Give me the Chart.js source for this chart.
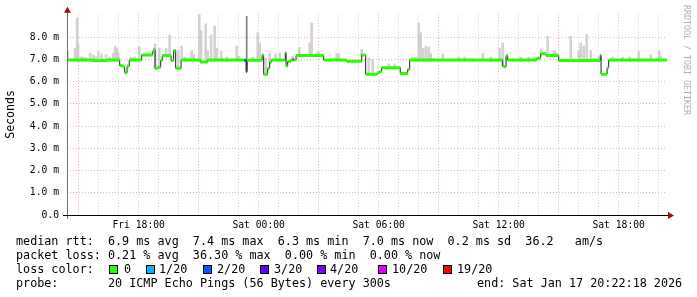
<!DOCTYPE html>
<html>
<head>
<meta charset="utf-8">
<script src="https://cdn.jsdelivr.net/npm/chart.js@4.4.1/dist/chart.umd.min.js"></script>
<style>
  html, body { margin: 0; padding: 0; background: #fff; }
  #wrap { position: relative; width: 697px; height: 297px; overflow: hidden; }
  #rtt { position: absolute; left: 0; top: 0; }
  .leg { position: absolute; font-family: "DejaVu Sans Mono", monospace; font-size: 11.75px; line-height: 14px; white-space: pre; color: #000; }
  .box { position: absolute; width: 7px; height: 7px; border: 1px solid #000; }
  #credit { position: absolute; left: 682px; top: 5px; writing-mode: vertical-rl; font-family: "DejaVu Sans Mono", monospace; font-size: 8.3px; color: #b0b0b0; white-space: pre; }
</style>
</head>
<body>
<div id="wrap">
  <canvas id="rtt" width="697" height="297"></canvas>
  <div id="credit">RRDTOOL / TOBI OETIKER</div>
  <div class="leg" style="left:16px;top:234px">median rtt:  6.9 ms avg  7.4 ms max  6.3 ms min  7.0 ms now  0.2 ms sd  36.2   am/s</div>
  <div class="leg" style="left:16px;top:248px">packet loss: 0.21 % avg  36.30 % max  0.00 % min  0.00 % now</div>
  <div class="leg" style="left:16px;top:262px">loss color:</div>
  <div id="lossLegend"></div>
  <div class="leg" style="left:16px;top:276px">probe:       20 ICMP Echo Pings (56 Bytes) every 300s</div>
  <div class="leg" style="left:477px;top:276px">end: Sat Jan 17 20:22:18 2026</div>
</div>
<script>
// time in hours since Fri 00:00, rtt in ms
const startHour = 14 + 25 / 60;
const endHour = startHour + 30;
const timeTicks = [18, 24, 30, 36, 42];
const timeLabels = ['Fri 18:00', 'Sat 00:00', 'Sat 06:00', 'Sat 12:00', 'Sat 18:00'];
const rttTicks = [0, 1, 2, 3, 4, 5, 6, 7, 8];
const rttLabels = ['0.0', '1.0 m', '2.0 m', '3.0 m', '4.0 m', '5.0 m', '6.0 m', '7.0 m', '8.0 m'];

// median rtt, step values starting at each time
const medianTime = [14.42, 15.70, 16.40, 17.05, 17.20, 17.30, 17.42, 17.53, 18.15, 18.70,
  18.75, 18.82, 18.95, 19.10, 19.18, 19.62, 19.75, 19.85, 20.12, 21.08,
  21.45, 23.28, 23.37, 23.42, 24.17, 24.25, 24.45, 24.55, 24.65, 25.33,
  25.37, 25.45, 25.60, 25.70, 25.75, 25.87, 27.25, 28.40, 29.15, 29.35,
  29.92, 30.05, 30.15, 31.08, 31.45, 31.55, 36.20, 36.28, 36.37, 36.45,
  37.90, 38.10, 38.37, 39.00, 41.08, 41.12, 41.42, 41.50];
const medianMs = [6.97, 6.95, 6.97, 6.72, 6.68, 6.40, 6.70, 6.97, 7.20, 7.35,
  7.45, 6.60, 6.65, 6.95, 7.17, 6.95, 7.40, 6.60, 6.97, 6.88,
  6.97, 6.96, 6.45, 6.96, 7.20, 6.33, 6.60, 6.88, 6.97, 7.30,
  6.70, 6.90, 6.97, 7.00, 6.97, 7.18, 6.97, 6.92, 7.20, 6.33,
  6.40, 6.45, 6.62, 6.37, 6.55, 6.97, 6.70, 6.67, 7.17, 6.97,
  7.05, 7.25, 7.17, 6.95, 7.20, 6.33, 6.62, 6.97];

// steps that had packet loss
const lossTime = [23.28, 23.37, 25.70];
const lossLevel = ['2/20', '10/20', '10/20'];

// smoke: highest ping of a step
const smokeTime = [14.45, 14.82, 14.92, 14.97, 15.10, 15.20, 15.35, 15.57, 15.73, 15.85,
  15.98, 16.15, 16.37, 16.55, 16.73, 16.83, 16.90, 16.98, 17.62, 17.80,
  18.03, 18.53, 18.82, 19.03, 19.37, 19.55, 19.98, 20.15, 20.30, 20.65,
  20.75, 21.03, 21.12, 21.35, 21.45, 21.62, 21.80, 21.90, 22.13, 22.40,
  22.90, 23.00, 23.70, 23.95, 24.05, 24.35, 24.55, 24.85, 25.05, 25.70,
  26.03, 26.55, 26.65, 26.90, 27.00, 27.90, 28.00, 29.15, 29.50, 29.70,
  30.50, 30.80, 31.70, 31.85, 32.00, 32.10, 32.22, 32.36, 32.50, 32.60,
  33.20, 34.00, 34.30, 35.20, 35.60, 36.05, 36.20, 37.10, 37.50, 37.80,
  38.13, 38.45, 38.75, 38.85, 39.60, 40.00, 40.10, 40.25, 40.40, 40.60,
  41.00, 41.70, 42.20, 42.55, 43.00, 43.60, 44.03, 44.10];
const smokeTop = [7.37, 7.50, 8.86, 7.70, 7.10, 7.12, 7.08, 7.28, 7.20, 7.12,
  7.35, 7.25, 7.20, 7.10, 7.28, 7.60, 7.50, 7.30, 7.10, 7.12,
  7.58, 7.30, 7.70, 7.50, 7.50, 8.09, 7.42, 7.60, 7.10, 7.40,
  7.20, 9.00, 8.30, 8.60, 7.40, 8.10, 8.50, 7.50, 7.37, 7.10,
  7.60, 7.15, 7.10, 8.19, 7.75, 7.05, 7.28, 7.25, 7.30, 7.15,
  7.53, 7.75, 8.64, 7.30, 7.35, 7.25, 7.25, 7.45, 7.05, 7.00,
  6.80, 6.80, 7.10, 7.10, 8.64, 8.20, 7.50, 7.60, 7.55, 7.25,
  7.25, 7.10, 7.10, 7.28, 7.10, 7.50, 7.75, 7.10, 7.10, 7.10,
  7.45, 8.04, 7.40, 7.35, 8.04, 7.40, 7.75, 7.60, 8.12, 7.40,
  7.10, 7.10, 7.10, 7.10, 7.35, 7.20, 7.40, 7.15];

// single step with a long dark smoke line
const darkTime = [23.40];
const darkTop = [8.94];

const lossLabels = ['0', '1/20', '2/20', '3/20', '4/20', '10/20', '19/20'];
const lossColors = ['#26ff00', '#00b8ff', '#0059ff', '#5e00ff', '#7e00ff', '#dd00ff', '#ff0000'];

function medianAt(t) {
  let v = medianMs[0];
  medianTime.forEach((mt, i) => { if (mt <= t) v = medianMs[i]; });
  return v;
}

function colorOf(i) {
  const k = lossTime.indexOf(medianTime[i]);
  return lossColors[lossLabels.indexOf(k < 0 ? '0' : lossLevel[k])];
}

// loss colour legend
const boxLeft = [109, 146, 203, 260, 317, 378, 443];
const textLeft = [124, 159, 217, 274, 330, 392, 457];
const lossLegend = document.getElementById('lossLegend');
lossLabels.forEach((lab, i) => {
  const b = document.createElement('div');
  b.className = 'box';
  b.style.left = boxLeft[i] + 'px';
  b.style.top = '265px';
  b.style.background = lossColors[i];
  lossLegend.appendChild(b);
  const s = document.createElement('div');
  s.className = 'leg';
  s.style.left = textLeft[i] + 'px';
  s.style.top = '262px';
  s.textContent = lab;
  lossLegend.appendChild(s);
});

const stepLine = medianTime.map((t, i) => ({ x: t, y: medianMs[i] }))
  .concat([{ x: endHour, y: medianMs[medianMs.length - 1] }]);

const bands = {};
medianTime.forEach((t, i) => {
  const c = colorOf(i);
  const t2 = i + 1 < medianTime.length ? medianTime[i + 1] : endHour;
  (bands[c] = bands[c] || []).push({ x: t, y: medianMs[i] }, { x: t2, y: medianMs[i] }, { x: t2, y: null });
});

const datasets = [
  {
    type: 'bar',
    data: smokeTime.map((t, i) => ({ x: t, y: [medianAt(t) - 0.05, smokeTop[i]] })),
    backgroundColor: 'rgba(200,200,200,0.8)',
    barThickness: 2,
    grouped: false,
    borderWidth: 0,
    order: 5
  },
  {
    type: 'bar',
    data: darkTime.map((t, i) => ({ x: t, y: [medianAt(t), darkTop[i]] })),
    backgroundColor: '#808080',
    barThickness: 1,
    grouped: false,
    borderWidth: 0,
    order: 4
  },
  {
    type: 'line',
    data: stepLine,
    stepped: true,
    borderColor: '#202020',
    borderWidth: 1,
    pointRadius: 0,
    order: 3
  }
];
Object.keys(bands).forEach(c => {
  datasets.push({
    type: 'line',
    data: bands[c],
    borderColor: c,
    borderWidth: 3,
    borderCapStyle: 'butt',
    spanGaps: false,
    pointRadius: 0,
    order: c === lossColors[0] ? 2 : 1
  });
});

const axisFont = { family: 'DejaVu Sans Mono', size: 9.7 };
const majorGrid = 'rgba(240,140,140,0.7)';
const minorGrid = 'rgba(190,190,190,0.7)';

const arrows = {
  id: 'arrows',
  afterDraw(chart) {
    const { ctx, chartArea: a } = chart;
    ctx.save();
    ctx.lineWidth = 1;
    ctx.strokeStyle = '#707070';
    ctx.beginPath();
    ctx.moveTo(a.left + 0.5, a.bottom + 4);
    ctx.lineTo(a.left + 0.5, a.top - 3);
    ctx.stroke();
    ctx.strokeStyle = '#000';
    ctx.beginPath();
    ctx.moveTo(a.left - 4, a.bottom + 0.5);
    ctx.lineTo(a.right + 2, a.bottom + 0.5);
    ctx.stroke();
    ctx.fillStyle = '#9a1010';
    ctx.beginPath();
    ctx.moveTo(a.left + 0.5, a.top - 7);
    ctx.lineTo(a.left - 3, a.top - 1);
    ctx.lineTo(a.left + 4, a.top - 1);
    ctx.closePath();
    ctx.fill();
    ctx.beginPath();
    ctx.moveTo(a.right + 7, a.bottom + 0.5);
    ctx.lineTo(a.right + 1, a.bottom - 3);
    ctx.lineTo(a.right + 1, a.bottom + 4);
    ctx.closePath();
    ctx.fill();
    ctx.restore();
  }
};

new Chart(document.getElementById('rtt').getContext('2d'), {
  type: 'line',
  data: { datasets },
  options: {
    responsive: false,
    animation: false,
    devicePixelRatio: 1,
    layout: { padding: { left: 0, right: 30, top: 13, bottom: 0 } },
    plugins: { legend: { display: false }, tooltip: { enabled: false } },
    scales: {
      x: {
        type: 'linear',
        min: startHour,
        max: endHour,
        offset: false,
        afterBuildTicks: s => {
          const t = [];
          for (let h = Math.ceil(startHour); h <= endHour; h++) t.push({ value: h });
          s.ticks = t;
        },
        afterFit: s => { s.height = 82; },
        border: { display: false, dash: [1, 2] },
        grid: {
          offset: false,
          drawTicks: false,
          color: c => (c.tick && c.tick.value % 3 === 0 ? majorGrid : minorGrid)
        },
        ticks: {
          autoSkip: false,
          maxRotation: 0,
          padding: 5,
          color: '#000',
          font: axisFont,
          callback: v => {
            const k = timeTicks.indexOf(v);
            return k < 0 ? '' : timeLabels[k];
          }
        }
      },
      y: {
        min: 0,
        max: 9.05,
        afterBuildTicks: s => {
          const t = [];
          for (let v = 0; v <= 8.5; v += 0.5) t.push({ value: v });
          s.ticks = t;
        },
        afterFit: s => { s.width = 67; },
        border: { display: false, dash: [1, 2] },
        grid: {
          drawTicks: false,
          color: c => (c.tick && Number.isInteger(c.tick.value) ? majorGrid : minorGrid)
        },
        ticks: {
          padding: 8,
          color: '#000',
          font: axisFont,
          callback: v => {
            const k = rttTicks.indexOf(v);
            return k < 0 ? '' : rttLabels[k];
          }
        },
        title: {
          display: true,
          text: 'Seconds',
          color: '#000',
          font: { family: 'DejaVu Sans Mono', size: 11.6 },
          padding: { top: 4, bottom: 0 }
        }
      }
    }
  },
  plugins: [arrows]
});
</script>
</body>
</html>
